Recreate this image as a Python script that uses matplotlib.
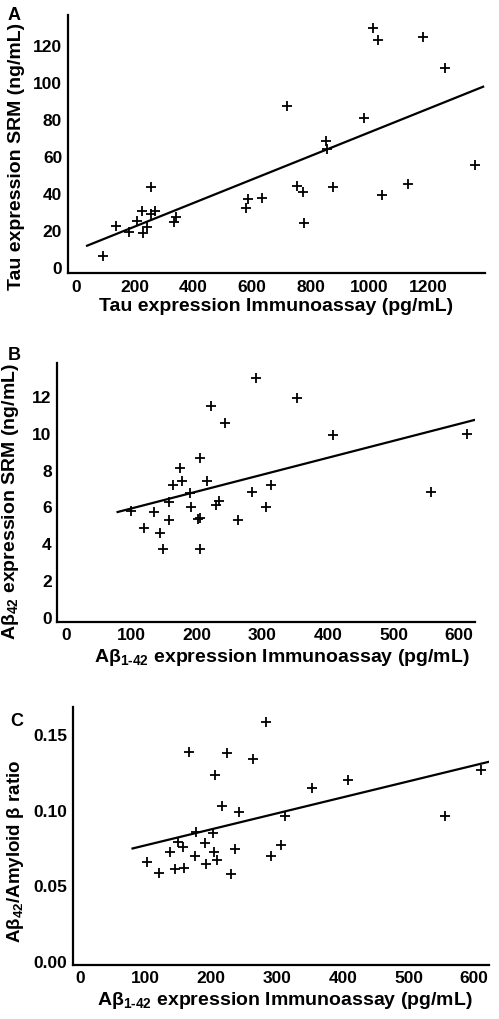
import numpy as np
import matplotlib
matplotlib.use("Agg")
import matplotlib.pyplot as plt

plt.rcParams['font.family'] = ['Liberation Sans', 'DejaVu Sans']
plt.rcParams['font.weight'] = 'bold'
plt.rcParams['mathtext.fontset'] = 'custom'
plt.rcParams['mathtext.rm'] = 'Liberation Sans:bold'
plt.rcParams['mathtext.bf'] = 'Liberation Sans:bold'
plt.rcParams['mathtext.it'] = 'Liberation Sans:bold'
plt.rcParams['mathtext.default'] = 'bf'

# Panel A: Tau
tau_immuno = [91, 135, 180, 207, 224, 226, 241, 255, 255, 267, 334, 340, 580, 587, 635,
              720, 752, 775, 778, 851, 857, 876, 981, 1014, 1030, 1044, 1133, 1184, 1260, 1360]
tau_srm = [6.3, 22.5, 19.3, 25.2, 30.5, 18.4, 21.6, 43.2, 28.8, 30.5, 24.7, 27, 32, 36.9, 37.3,
           86.8, 43.6, 40.5, 23.8, 67.9, 64, 43.2, 80.7, 128.8, 122.5, 39.1, 45, 124, 107.2, 55]
tau_fit = (0.0633, 9.4)        # slope, intercept
tau_fit_range = (36, 1389)

# Panel B: Abeta42 SRM
ab_immuno = [99.6, 118.5, 134.7, 144.4, 148, 157, 157.6, 163, 174, 177, 189.6, 190.6, 201, 204,
             205, 205.4, 215, 222, 228.8, 233.9, 242.5, 262.3, 284, 289.8, 305, 312.7, 352.3,
             408, 557, 611.6]
ab_srm = [5.76, 4.83, 5.72, 4.58, 3.67, 6.26, 5.28, 7.17, 8.09, 7.38, 6.71, 5.95, 5.3, 5.39,
          3.67, 8.62, 7.38, 11.46, 6.08, 6.32, 10.53, 5.25, 6.8, 12.96, 5.95, 7.17, 11.91,
          9.88, 6.8, 9.94]
ab_fit = (0.0092, 4.97)
ab_fit_range = (79, 624)

# Panel C: Abeta42 / amyloid beta ratio
ratio_immuno = [101.5, 120.3, 136.5, 144.7, 149.7, 156.3, 158.4, 165.5, 175.6, 177.2, 190.9,
                191.4, 203, 204.6, 205.6, 208, 215.7, 223.4, 229.4, 235.5, 242, 263.5, 283.8,
                290.9, 306.6, 312.7, 352.8, 407.6, 555.8, 609.6]
ratio_vals = [0.0651, 0.058, 0.0721, 0.0607, 0.0787, 0.0754, 0.0613, 0.1378, 0.069, 0.0849,
              0.0776, 0.064, 0.0843, 0.0717, 0.1231, 0.0668, 0.1023, 0.1374, 0.0573, 0.0739,
              0.0986, 0.1334, 0.1579, 0.0695, 0.0765, 0.0955, 0.1145, 0.1198, 0.0957, 0.1264]
ratio_fit = (0.0001057, 0.0658)
ratio_fit_range = (80, 623)

fig = plt.figure(figsize=(4.99, 10.2), dpi=100)

panels = [
    dict(rect=[0.1357, 0.7314, 0.836, 0.253], x=tau_immuno, y=tau_srm, fit=tau_fit,
         rng=tau_fit_range, xlim=(-30, 1395), ylim=(-3, 136),
         xticks=np.arange(0, 1201, 200), yticks=np.arange(0, 121, 20), yfmt="{:.0f}",
         xlabel="Tau expression Immunoassay (pg/mL)", ylabel="Tau expression SRM (ng/mL)",
         letter="A", letter_pos=(0.016, 0.993), ylab_xy=(-0.102, 0.455), xlab_x=0.5,
         ylab_size=14),
    dict(rect=[0.1148, 0.3895, 0.837, 0.2536], x=ab_immuno, y=ab_srm, fit=ab_fit,
         rng=ab_fit_range, xlim=(-13, 624), ylim=(-0.27, 13.8),
         xticks=np.arange(0, 601, 100), yticks=np.arange(0, 13, 2), yfmt="{:.0f}",
         xlabel=r"A$\beta_{1\text{-}42}$ expression Immunoassay (pg/mL)",
         ylabel=r"A$\beta_{42}$ expression SRM (ng/mL)",
         letter="B", letter_pos=(0.016, 0.660), ylab_xy=(-0.087, 0.467), xlab_x=0.538,
         ylab_size=14),
    dict(rect=[0.1457, 0.0532, 0.835, 0.2524], x=ratio_immuno, y=ratio_vals, fit=ratio_fit,
         rng=ratio_fit_range, xlim=(-11, 623), ylim=(-0.0026, 0.1676),
         xticks=np.arange(0, 601, 100), yticks=[0, 0.05, 0.10, 0.15], yfmt="{:.2f}",
         xlabel=r"A$\beta_{1\text{-}42}$ expression Immunoassay (pg/mL)",
         ylabel=r"A$\beta_{42}$/Amyloid $\beta$ ratio",
         letter="C", letter_pos=(0.02, 0.301), ylab_xy=(-0.112, 0.446), xlab_x=0.51,
         ylab_size=13.5),
]

for p in panels:
    ax = fig.add_axes(p["rect"])
    ax.plot(p["x"], p["y"], linestyle="none", marker="+", color="black",
            markersize=7, markeredgewidth=1.3)
    slope, icpt = p["fit"]
    xs = np.array(p["rng"])
    ax.plot(xs, slope * xs + icpt, color="black", linewidth=1.6)
    ax.set_xlim(p["xlim"])
    ax.set_ylim(p["ylim"])
    ax.set_xticks(p["xticks"])
    ax.set_yticks(p["yticks"])
    ax.set_yticklabels([p["yfmt"].format(v) for v in p["yticks"]])
    ax.tick_params(length=0, labelsize=12.5, pad=4)
    for s in ["top", "right"]:
        ax.spines[s].set_visible(False)
    for s in ["left", "bottom"]:
        ax.spines[s].set_linewidth(1.6)
    ax.set_xlabel(p["xlabel"], fontsize=14, fontweight="bold", labelpad=5)
    ax.xaxis.set_label_coords(p["xlab_x"], -0.095)
    ax.xaxis.label.set_va("top")
    ax.set_ylabel(p["ylabel"], fontsize=p["ylab_size"], fontweight="bold")
    ax.yaxis.set_label_coords(*p["ylab_xy"])
    fig.text(p["letter_pos"][0], p["letter_pos"][1], p["letter"], fontsize=13,
             fontweight="bold", ha="left", va="top")

fig.savefig("out.png", dpi=100, facecolor="white")
